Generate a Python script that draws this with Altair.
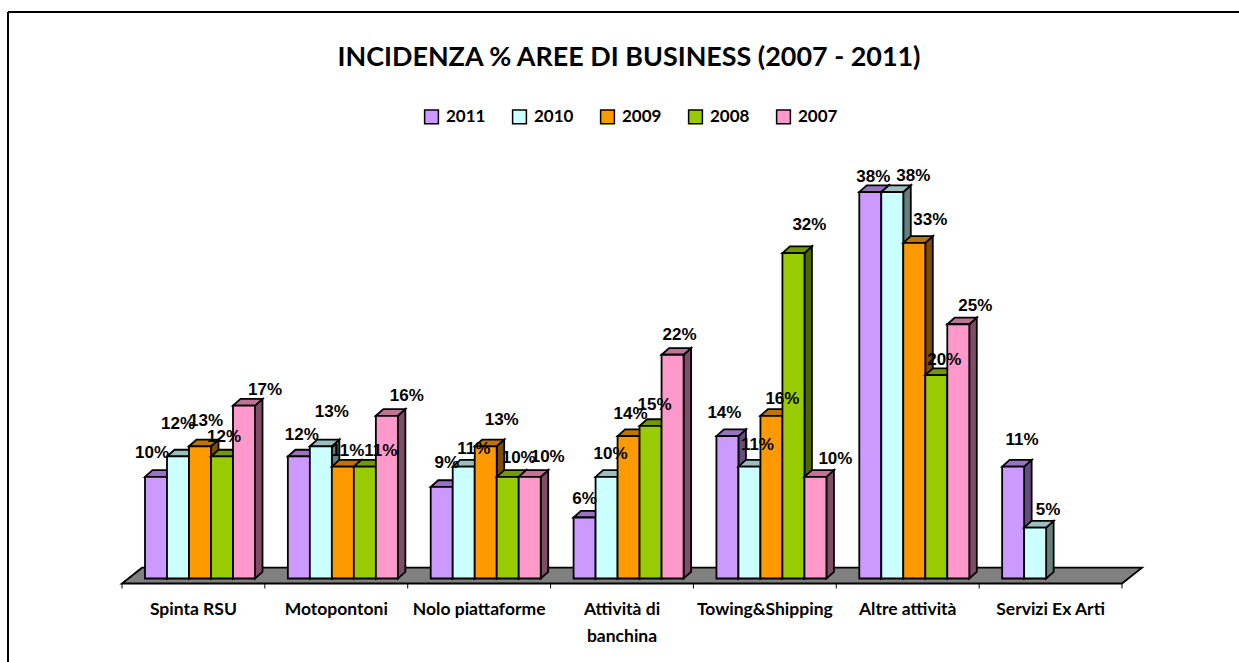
import altair as alt
import pandas as pd

categories = ["Spinta RSU", "Motopontoni", "Nolo piattaforme", "Attività di\nbanchina",
              "Towing&Shipping", "Altre attività", "Servizi Ex Arti"]
years = ["2011", "2010", "2009", "2008", "2007"]

v2011 = [10, 12, 9, 6, 14, 38, 11]
v2010 = [12, 13, 11, 10, 11, 38, 5]
v2009 = [13, 11, 13, 14, 16, 33, None]
v2008 = [12, 11, 10, 15, 32, 20, None]
v2007 = [17, 16, 10, 22, 10, 25, None]
series = [v2011, v2010, v2009, v2008, v2007]

front = ["#CC99FF", "#CCFFFF", "#FF9900", "#99CC00", "#FF99CC"]
top = ["#9973BF", "#99BFBF", "#BF7300", "#739900", "#BF7399"]
side = ["#664D80", "#668080", "#804D00", "#4D6600", "#804D66"]

# Hand-placed data labels: shift from the bar's top centre (right, up), in pixels
label_right = [[-4, 3, 5, 0, -3, 3, 9], [0, 11, 10, 4, 8, 21, 13], [6, 5, 16, 2, 11, 16, 0],
               [2, 16, 11, 4, 16, 8, 0], [21, 20, 18, 7, 20, 17, 0]]
label_up = [[24, 21, 24, 18, 23, 15, 27], [32, 34, 18, 23, 22, 16, 18], [25, 16, 26, 22, 17, 23, 0],
            [19, 16, 19, 21, 28, 15, 0], [16, 20, 20, 20, 18, 18, 0]]

W, H = 1239, 662
PX_X = 1000 / 7      # pixels per category
PX_Y = 10.17         # pixels per percentage point
X0, Y0 = 122, 578.5  # where category 0 and value 0 sit on the canvas
BAR = 22 / PX_X
START = 23 / PX_X
DX = 7.5 / PX_X      # depth of a bar
DY = 6.7 / PX_Y

x_scale = alt.Scale(domain=[-X0 / PX_X, (W - X0) / PX_X], nice=False, zero=False)
y_scale = alt.Scale(domain=[(Y0 - H) / PX_Y, Y0 / PX_Y], nice=False, zero=False)
X = alt.X("x:Q", scale=x_scale, axis=None)
Y = alt.Y("y:Q", scale=y_scale, axis=None)
Y2 = alt.Y2("y2:Q")

base_cfg = dict(stroke="black", strokeWidth=1.8, strokeJoin="miter", clip=False)


def faces(i):
    """Side, top and front faces of every bar in series i."""
    side_rows, top_rows, front_rows = [], [], []
    for c, v in enumerate(series[i]):
        if v is None:
            continue
        l = c + START + i * BAR
        r = l + BAR
        side_rows += [dict(c=c, x=r, y=v, y2=0), dict(c=c, x=r + DX, y=v + DY, y2=DY)]
        top_rows += [dict(c=c, x=l, y=v, y2=v), dict(c=c, x=l + DX, y=v + DY, y2=v),
                     dict(c=c, x=r, y=v + DY, y2=v), dict(c=c, x=r + DX, y=v + DY, y2=v + DY)]
        front_rows.append(dict(x=l, x2=r, y=0, y2=v, year=years[i]))
    area = alt.Chart(pd.DataFrame(side_rows)).mark_area(color=side[i], **base_cfg).encode(
        x=X, y=Y, y2=Y2, detail="c:N")
    roof = alt.Chart(pd.DataFrame(top_rows)).mark_area(color=top[i], **base_cfg).encode(
        x=X, y=Y, y2=Y2, detail="c:N")
    face = alt.Chart(pd.DataFrame(front_rows)).mark_rect(stroke="black", strokeWidth=1.8).encode(
        x=X, x2="x2:Q", y=Y, y2=Y2,
        color=alt.Color("year:N", scale=alt.Scale(domain=years, range=front), sort=years, legend=alt.Legend(
            title=None, orient="none", legendX=423, legendY=108, direction="horizontal", columns=5,
            symbolType="square", symbolSize=190, symbolStrokeColor="black", symbolStrokeWidth=1.5,
            labelFont="Lato", labelFontWeight="bold", labelFontSize=17, labelColor="black",
            labelOffset=6, columnPadding=23, padding=0)))
    return [area, roof, face]


# Floor slab under the bars
floor_df = pd.DataFrame([
    dict(x=0, y=-0.49, y2=-0.49),
    dict(x=20 / PX_X, y=1.06, y2=-0.49),
    dict(x=7, y=1.06, y2=-0.49),
    dict(x=7 + 20 / PX_X, y=1.06, y2=1.06),
])
floor = alt.Chart(floor_df).mark_area(color="#808080", **base_cfg).encode(x=X, y=Y, y2=Y2)

tick_df = pd.DataFrame({"x": list(range(8)), "y": [-0.49] * 8, "y2": [-0.98] * 8})
ticks = alt.Chart(tick_df).mark_rule(color="black", strokeWidth=1).encode(x=X, y=Y, y2=Y2)

cat_df = pd.DataFrame({"x": [c + 0.5 for c in range(7)], "y": [-3.1] * 7, "label": categories})
cat_labels = alt.Chart(cat_df).mark_text(
    font="Lato", fontWeight="bold", fontSize=17.5, color="black", baseline="middle",
    lineBreak="\n", lineHeight=27).encode(x=X, y=Y, text="label:N")

label_rows = []
for i, vals in enumerate(series):
    for c, v in enumerate(vals):
        if v is None:
            continue
        label_rows.append(dict(
            x=c + START + (i + 0.5) * BAR + label_right[i][c] / PX_X,
            y=v + label_up[i][c] / PX_Y,
            text=f"{v}%"))
labels = alt.Chart(pd.DataFrame(label_rows)).mark_text(
    font="Liberation Sans", fontWeight="bold", fontSize=17, color="black", baseline="middle"
).encode(x=X, y=Y, text="text:N")

# Chart frame, open at the bottom and right like the cropped sheet
frame_top = alt.Chart(pd.DataFrame({"a": [0]})).mark_rule(color="black", strokeWidth=2).encode(
    x=alt.value(8), x2=alt.value(W), y=alt.value(12))
frame_left = alt.Chart(pd.DataFrame({"a": [0]})).mark_rule(color="black", strokeWidth=2).encode(
    x=alt.value(8), y=alt.value(12), y2=alt.value(H))

layers = [frame_top, frame_left, floor, ticks, cat_labels]
for i in range(5):
    layers += faces(i)
layers.append(labels)

chart = alt.layer(*layers).properties(
    width=W, height=H, padding=0, autosize=alt.AutoSizeParams(type="none"),
    title=alt.TitleParams("INCIDENZA % AREE DI BUSINESS (2007 - 2011)", font="Lato", fontWeight="bold",
                          fontSize=26.9, color="black", anchor="middle", dx=9.5, offset=-72, orient="top"),
).resolve_scale(color="shared").configure_view(stroke=None)

chart.save("out.html", embed_options={"renderer": "svg", "actions": False})
